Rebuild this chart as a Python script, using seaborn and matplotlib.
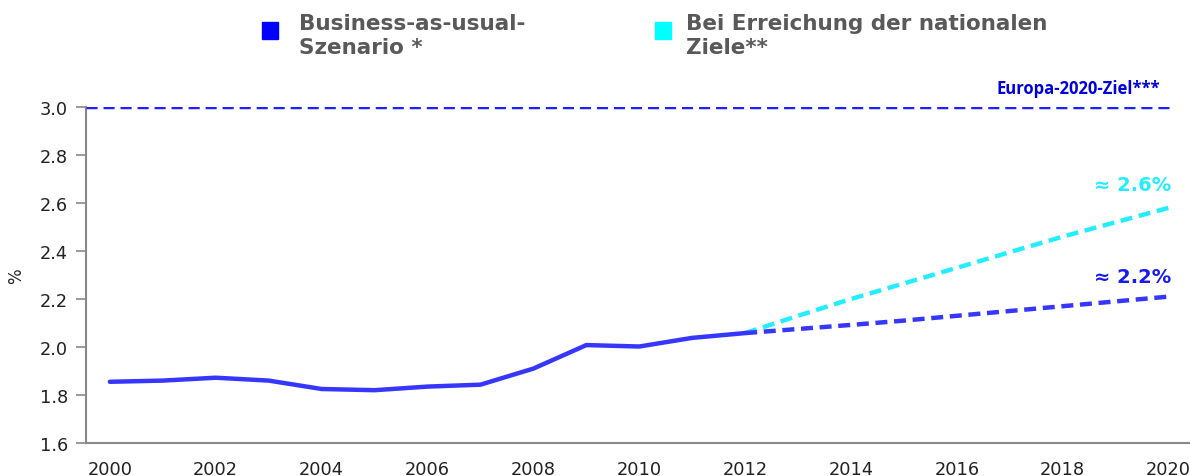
import matplotlib
matplotlib.use("Agg")
import matplotlib.pyplot as plt
from matplotlib.patches import Rectangle
import seaborn as sns
import pandas as pd

# ---- data ----
hist_years = [2000, 2001, 2002, 2003, 2004, 2005, 2006, 2007, 2008, 2009, 2010, 2011, 2012]
hist_values = [1.855, 1.86, 1.872, 1.86, 1.825, 1.82, 1.835, 1.843, 1.91, 2.008, 2.002, 2.038, 2.058]

proj_years = [2012, 2013, 2014, 2015, 2016, 2017, 2018, 2019, 2020]
bau_values = [2.058, 2.075, 2.092, 2.11, 2.13, 2.15, 2.17, 2.19, 2.21]
national_values = [2.058, 2.13, 2.20, 2.265, 2.33, 2.395, 2.46, 2.52, 2.58]

target_value = 3.0
x_ticks = [2000, 2002, 2004, 2006, 2008, 2010, 2012, 2014, 2016, 2018, 2020]
y_ticks = [1.6, 1.8, 2.0, 2.2, 2.4, 2.6, 2.8, 3.0]

legend_labels = ["Business-as-usual-\nSzenario *", "Bei Erreichung der nationalen\nZiele**"]
target_label = "Europa-2020-Ziel***"
bau_label = "≈ 2.2%"
national_label = "≈ 2.6%"
y_label = "%"

# ---- style ----
sns.set_style("white")
plt.rcParams['font.family'] = ['DejaVu Sans']

BLUE_LINE = "#3636ff"
CYAN = "#22eeff"
GRAY_TEXT = "#595959"

fig = plt.figure(figsize=(11.9, 4.77), dpi=100)
ax = fig.add_axes([0.0723, 0.0692, 0.9267, 0.7044])

df_hist = pd.DataFrame({"year": hist_years, "value": hist_values})
df_bau = pd.DataFrame({"year": proj_years, "value": bau_values})
df_nat = pd.DataFrame({"year": proj_years, "value": national_values})

xmin, xmax = 1999.55, 2020.38
ax.set_xlim(xmin, xmax)
ax.set_ylim(1.6, 3.0)

# target line from left axis edge to 2020
ax.axhline(target_value, xmin=0, xmax=(2020 - xmin) / (xmax - xmin),
           color="#2020ff", lw=2.5, dashes=(3.2, 1.7), zorder=3)

sns.lineplot(data=df_nat, x="year", y="value", ax=ax, color=CYAN, lw=3.2,
             zorder=3).lines[-1].set_dashes((2.7, 1.5))
sns.lineplot(data=df_bau, x="year", y="value", ax=ax, color=BLUE_LINE, lw=3.2,
             zorder=4).lines[-1].set_dashes((2.7, 1.5))
sns.lineplot(data=df_hist, x="year", y="value", ax=ax, color=BLUE_LINE, lw=3.2,
             zorder=5)

ax.set_xticks(x_ticks)
ax.set_yticks(y_ticks)
ax.set_yticklabels([f"{v:.1f}" for v in y_ticks])
ax.tick_params(axis="x", length=0, pad=12, labelsize=12.8, labelcolor="#222222")
ax.tick_params(axis="y", length=7, width=1.2, color="#888888", pad=6,
               labelsize=12.8, labelcolor="#222222", left=True)
ax.set_xlabel("")
ax.set_ylabel(y_label, fontsize=12, color="#222222")
ax.yaxis.set_label_coords(-0.055, 0.5)

for s in ["top", "right"]:
    ax.spines[s].set_visible(False)
for s in ["left", "bottom"]:
    ax.spines[s].set_color("#888888")
    ax.spines[s].set_linewidth(1.5)

# annotations
ax.text(2020.05, 2.679, national_label, color=CYAN, fontsize=14, fontweight="bold",
        ha="right", va="center")
ax.text(2020.05, 2.292, bau_label, color="#1a1aee", fontsize=14, fontweight="bold",
        ha="right", va="center")
fig.text(0.975, 1 - 89 / 477, target_label, color="#0000dd", fontsize=12,
         fontweight="bold", family=["Open Sans", "DejaVu Sans"], ha="right", va="center")

# legend (manual)
fig.patches.append(Rectangle((262 / 1190, 1 - 40 / 477), 16 / 1190, 17 / 477,
                             transform=fig.transFigure, color="#0000ff", figure=fig))
fig.patches.append(Rectangle((655 / 1190, 1 - 40 / 477), 16 / 1190, 17 / 477,
                             transform=fig.transFigure, color="#00ffff", figure=fig))
fig.text(299 / 1190, 1 - 14 / 477, legend_labels[0], color=GRAY_TEXT, fontsize=15.5,
         fontweight="bold", ha="left", va="top", linespacing=1.22)
fig.text(686 / 1190, 1 - 14 / 477, legend_labels[1], color=GRAY_TEXT, fontsize=15.5,
         fontweight="bold", ha="left", va="top", linespacing=1.22)

fig.savefig("out.png", dpi=100)
